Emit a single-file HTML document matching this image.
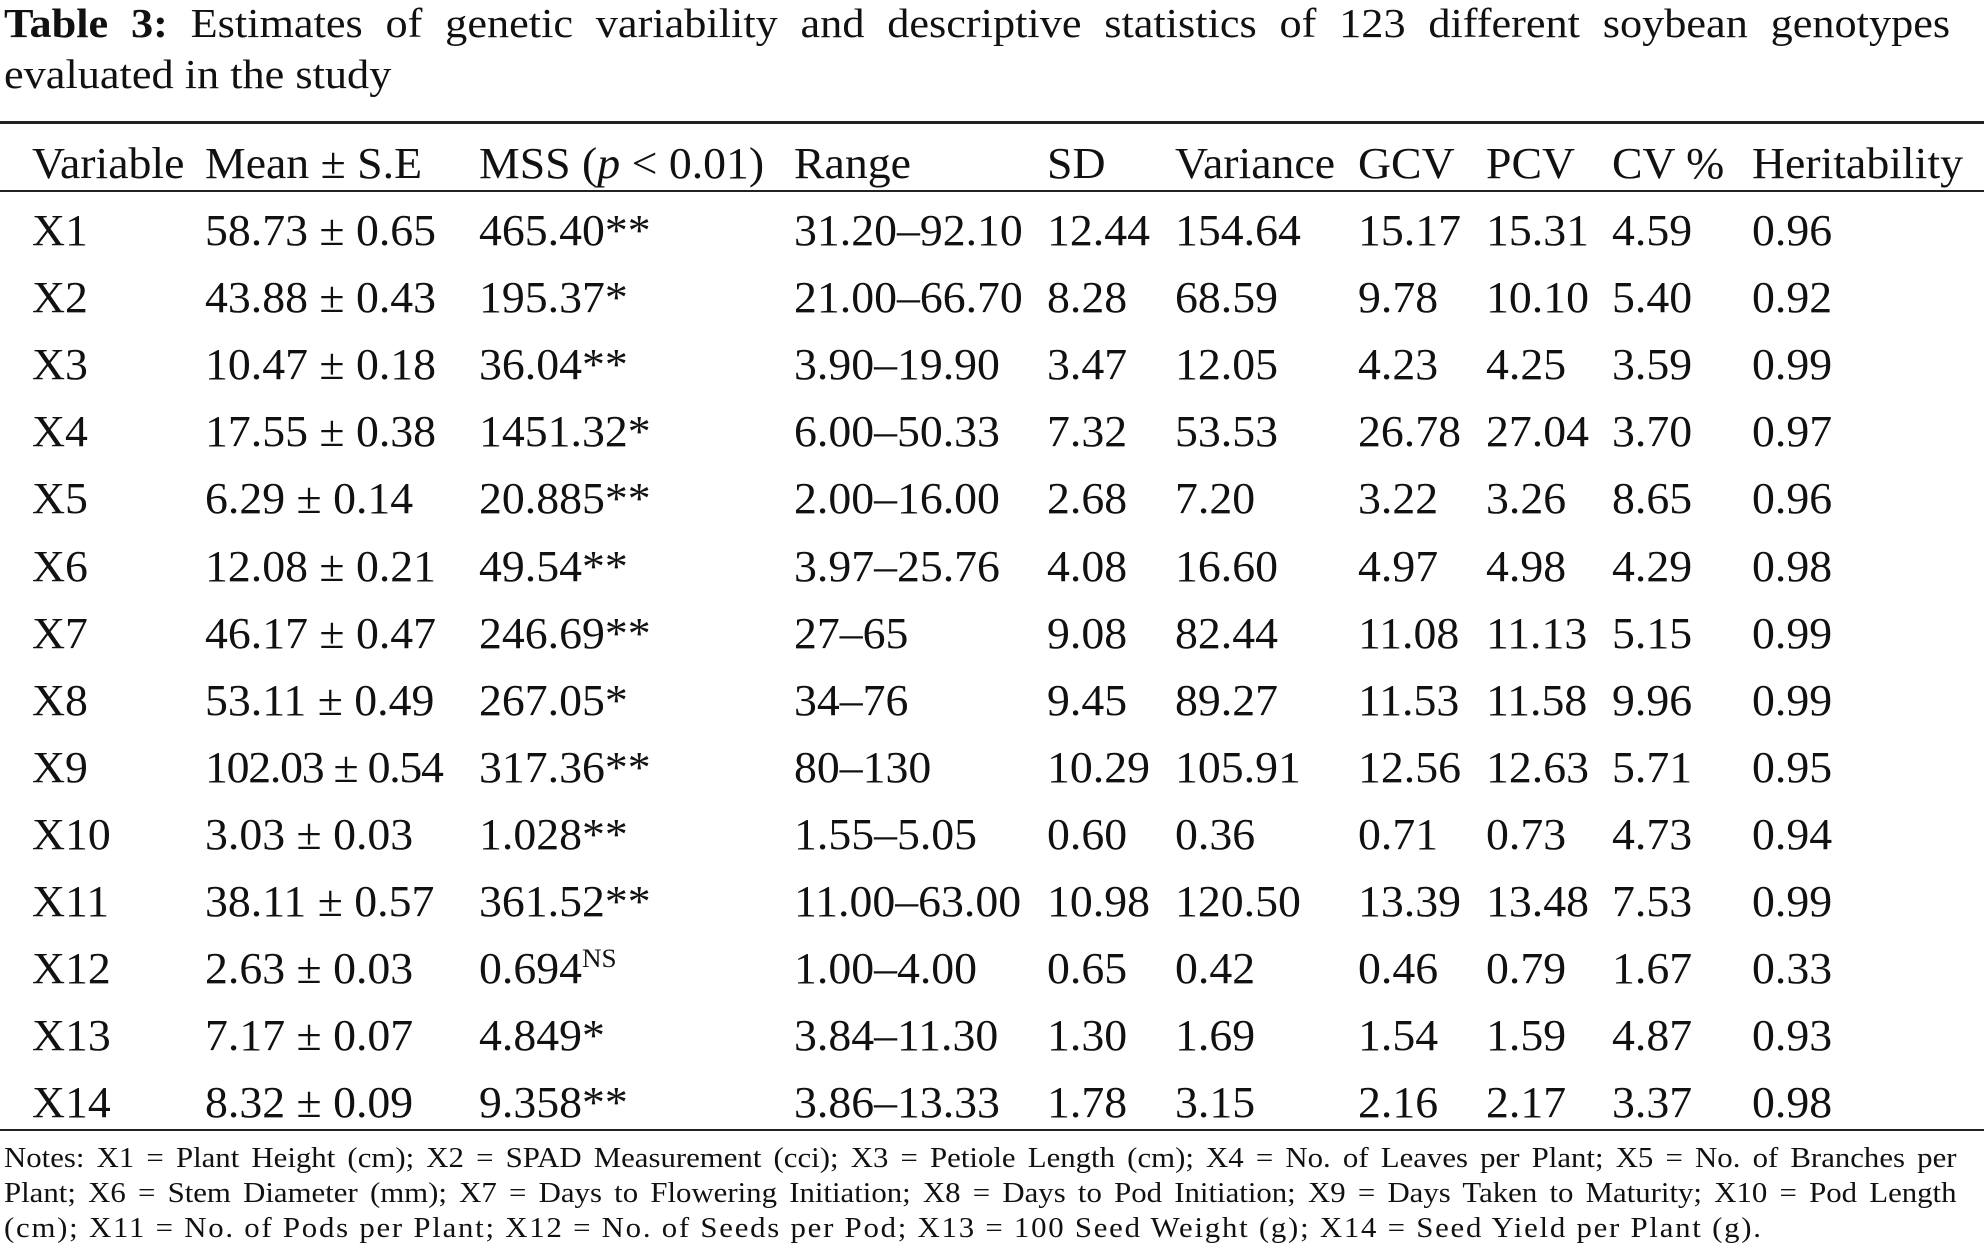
<!DOCTYPE html>
<html><head><meta charset="utf-8"><style>
body{margin:0;width:1988px;height:1249px;background:#fff;position:relative;overflow:hidden;font-family:"Liberation Serif",serif;color:#111}
.t{position:absolute;left:4px;width:1802px;font-size:41px;line-height:50px;text-align:justify;text-align-last:justify;transform:scaleX(1.08);transform-origin:0 0}
.c{position:absolute;font-size:44px;line-height:50px;white-space:nowrap;transform:scaleX(1.04);transform-origin:0 0}
.r{position:absolute;left:0;width:1984px;background:#222}
.n{position:absolute;left:4px;width:1775px;font-size:28px;line-height:35px;text-align:justify;text-align-last:justify;transform:scaleX(1.1);transform-origin:0 0}
sup{font-size:26px;line-height:0;position:relative;top:-16px;vertical-align:baseline}
</style></head><body>
<div class="t" style="top:-2px"><b>Table 3:</b> Estimates of genetic variability and descriptive statistics of 123 different soybean genotypes</div>
<div class="t" style="top:49px;text-align-last:left">evaluated in the study</div>
<div class="r" style="top:121px;height:3px"></div>
<div class="r" style="top:190px;height:2px"></div>
<div class="r" style="top:1129px;height:2px"></div>
<div id="tbl"></div>
<div class="n" style="top:1141px">Notes: X1 = Plant Height (cm); X2 = SPAD Measurement (cci); X3 = Petiole Length (cm); X4 = No. of Leaves per Plant; X5 = No. of Branches per</div>
<div class="n" style="top:1176px">Plant; X6 = Stem Diameter (mm); X7 = Days to Flowering Initiation; X8 = Days to Pod Initiation; X9 = Days Taken to Maturity; X10 = Pod Length</div>
<div class="n" style="top:1211px;text-align-last:left;letter-spacing:1.6px">(cm); X11 = No. of Pods per Plant; X12 = No. of Seeds per Pod; X13 = 100 Seed Weight (g); X14 = Seed Yield per Plant (g).</div>
<script>
const colX=[32,205,479,794,1047,1175,1358,1486,1612,1752];
const header=["Variable","Mean ± S.E","MSS (<i>p</i> &lt; 0.01)","Range","SD","Variance","GCV","PCV","CV %","Heritability"];
const rows=[
["X1","58.73 ± 0.65","465.40**","31.20–92.10","12.44","154.64","15.17","15.31","4.59","0.96"],
["X2","43.88 ± 0.43","195.37*","21.00–66.70","8.28","68.59","9.78","10.10","5.40","0.92"],
["X3","10.47 ± 0.18","36.04**","3.90–19.90","3.47","12.05","4.23","4.25","3.59","0.99"],
["X4","17.55 ± 0.38","1451.32*","6.00–50.33","7.32","53.53","26.78","27.04","3.70","0.97"],
["X5","6.29 ± 0.14","20.885**","2.00–16.00","2.68","7.20","3.22","3.26","8.65","0.96"],
["X6","12.08 ± 0.21","49.54**","3.97–25.76","4.08","16.60","4.97","4.98","4.29","0.98"],
["X7","46.17 ± 0.47","246.69**","27–65","9.08","82.44","11.08","11.13","5.15","0.99"],
["X8","53.11 ± 0.49","267.05*","34–76","9.45","89.27","11.53","11.58","9.96","0.99"],
["X9","102.03 ± 0.54","317.36**","80–130","10.29","105.91","12.56","12.63","5.71","0.95"],
["X10","3.03 ± 0.03","1.028**","1.55–5.05","0.60","0.36","0.71","0.73","4.73","0.94"],
["X11","38.11 ± 0.57","361.52**","11.00–63.00","10.98","120.50","13.39","13.48","7.53","0.99"],
["X12","2.63 ± 0.03","0.694<sup>NS</sup>","1.00–4.00","0.65","0.42","0.46","0.79","1.67","0.33"],
["X13","7.17 ± 0.07","4.849*","3.84–11.30","1.30","1.69","1.54","1.59","4.87","0.93"],
["X14","8.32 ± 0.09","9.358**","3.86–13.33","1.78","3.15","2.16","2.17","3.37","0.98"]];
const tbl=document.getElementById('tbl');
function cell(html,x,cy,name){const d=document.createElement('div');d.className='c';d.innerHTML=html;d.style.left=x+'px';d.style.top=(cy-25)+'px';


tbl.appendChild(d);return d;}
header.forEach((h,i)=>{cell(h,colX[i],164,'header-cell');});
rows.forEach((r,ri)=>{const cy=231+ri*67.1;r.forEach((v,ci)=>{const d=cell(v,colX[ci],cy,'table-cell');if(ci===1&&v.length>12)d.style.letterSpacing='-1.2px';});});
</script>
</body></html>
